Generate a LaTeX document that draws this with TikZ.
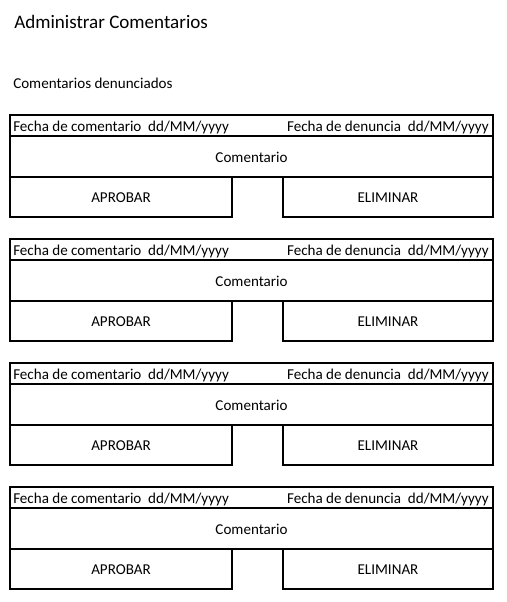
\documentclass[tikz,border=0pt]{standalone}
\usepackage{fontspec}
\setmainfont{Carlito}
\begin{document}
\begin{tikzpicture}[x=0.75pt, y=-0.75pt, font=\fontsize{11.3}{13}\selectfont, line join=miter]
 \tikzset{caja/.style={draw, line width=1.5pt, inner sep=0pt, outer sep=0pt, anchor=north west, text height=8.7pt, text depth=0pt},
  fecha/.style={inner sep=0pt, text height=7.2pt, text depth=0pt, yshift=-1.2pt}}
 \useasboundingbox (0,0) rectangle (506,602);
 \node[anchor=base west, inner sep=0pt, font=\fontsize{14.3}{17}\selectfont] (titulo) at (14,29) {Administrar Comentarios};
 \node[anchor=base west, inner sep=0pt] (subtitulo) at (13,89) {Comentarios denunciados};
 % bloques de comentarios
 \foreach \i in {0,...,3}{
  \pgfmathsetmacro\ytop{115+124*\i}
  \node[caja, minimum width=483*0.75pt, minimum height=21*0.75pt] (cab\i) at (10,\ytop) {};
  \node[fecha, anchor=west, xshift=3*0.75pt] (fc\i) at (cab\i.west) {Fecha de comentario\ \ dd/MM/yyyy};
  \node[fecha, anchor=east, xshift=-4*0.75pt] (fd\i) at (cab\i.east) {Fecha de denuncia\ \ dd/MM/yyyy};
  \node[caja, minimum width=483*0.75pt, minimum height=41*0.75pt] (com\i) at (cab\i.south west) {Comentario};
  \node[caja, minimum width=222*0.75pt, minimum height=40*0.75pt] (apr\i) at (com\i.south west) {APROBAR};
  \node[caja, anchor=north east, minimum width=210*0.75pt, minimum height=40*0.75pt] (eli\i) at (com\i.south east) {ELIMINAR};
 }
\end{tikzpicture}
\end{document}
